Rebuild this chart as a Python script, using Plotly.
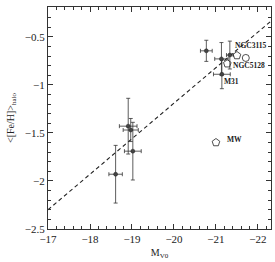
import plotly.graph_objects as go

# Filled points with error bars
mv = [-20.77, -21.13, -21.14, -21.33, -18.91, -18.97, -19.02, -18.61]
feh = [-0.646, -0.73, -0.89, -0.69, -1.43, -1.47, -1.69, -1.93]
mv_err = [0.14, 0.16, 0.20, 0.08, 0.21, 0.18, 0.20, 0.16]
feh_err = [0.11, 0.17, 0.15, 0.145, 0.29, 0.12, 0.30, 0.30]

# Open pentagons
pent_mv = [-21.50, -21.27, -21.00]
pent_feh = [-0.695, -0.78, -1.60]
# Open circle
circ_mv = [-21.71]
circ_feh = [-0.72]

# Dashed fit line endpoints
fit_mv = [-17.0, -22.3]
fit_feh = [-2.30, -0.34]

labels = ["NGC3115", "NGC5128", "M31", "MW"]
label_mv = [-21.40, -21.36, -21.14, -21.22]
label_feh = [-0.594, -0.80, -0.97, -1.57]

x_ticks = [-17, -18, -19, -20, -21, -22]
y_ticks = [-0.5, -1, -1.5, -2, -2.5]

dark = "#333333"
fig = go.Figure()
fig.add_trace(go.Scatter(x=fit_mv, y=fit_feh, mode="lines",
                         line=dict(color="#222", width=1.1, dash="4px,3px"),
                         hoverinfo="skip", showlegend=False))
fig.add_trace(go.Scatter(
    x=mv, y=feh, mode="markers",
    marker=dict(size=4, color="#444", line=dict(color="#222", width=0.5)),
    error_x=dict(type="data", array=mv_err, color=dark, thickness=0.8, width=2),
    error_y=dict(type="data", array=feh_err, color=dark, thickness=0.8, width=2),
    showlegend=False))
fig.add_trace(go.Scatter(x=pent_mv, y=pent_feh, mode="markers",
                         marker=dict(symbol="pentagon-open", size=8, color="#222", line=dict(width=0.8)),
                         showlegend=False))
fig.add_trace(go.Scatter(x=circ_mv, y=circ_feh, mode="markers",
                         marker=dict(symbol="circle-open", size=7, color="#222", line=dict(width=0.8)),
                         showlegend=False))

for t, xv, yv in zip(labels, label_mv, label_feh):
    fig.add_annotation(x=xv, y=yv, text="<b>" + t + "</b>", showarrow=False,
                       xanchor="left", yanchor="middle",
                       font=dict(family="Liberation Serif", size=7.5, color="#222"))

axis_common = dict(showgrid=False, zeroline=False, showline=True, linecolor="#333",
                   linewidth=1, mirror="allticks", ticks="inside", ticklen=5,
                   tickcolor="#333", tickwidth=1,
                   tickfont=dict(family="Liberation Serif", size=11, color="#222"))

fig.update_layout(
    width=275, height=262,
    margin=dict(l=48, r=4, t=7, b=33),
    plot_bgcolor="white", paper_bgcolor="white",
    xaxis=dict(range=[-17, -22.31], tickvals=x_ticks,
               ticktext=["\u221217", "\u221218", "\u221219", "\u221220", "\u221221", "\u221222"],
               minor=dict(dtick=0.2, ticks="inside", ticklen=3, tickcolor="#333"),
               title=dict(text="M<sub>V0</sub>", standoff=4,
                          font=dict(family="Liberation Serif", size=10, color="#222")),
               automargin=False, **axis_common),
    yaxis=dict(range=[-2.5, -0.19], tickvals=y_ticks,
               ticktext=["\u22120.5", "\u22121", "\u22121.5", "\u22122", "\u22122.5"],
               minor=dict(dtick=0.1, ticks="inside", ticklen=3, tickcolor="#333"),
               title=dict(text="<[Fe/H]><sub>halo</sub>", standoff=8,
                          font=dict(family="Liberation Serif", size=10, color="#222")),
               automargin=False, **axis_common),
)

fig.write_html("out.html", config={"displayModeBar": False},
               post_script="document.body.style.margin='0';document.body.style.overflow='hidden';")
